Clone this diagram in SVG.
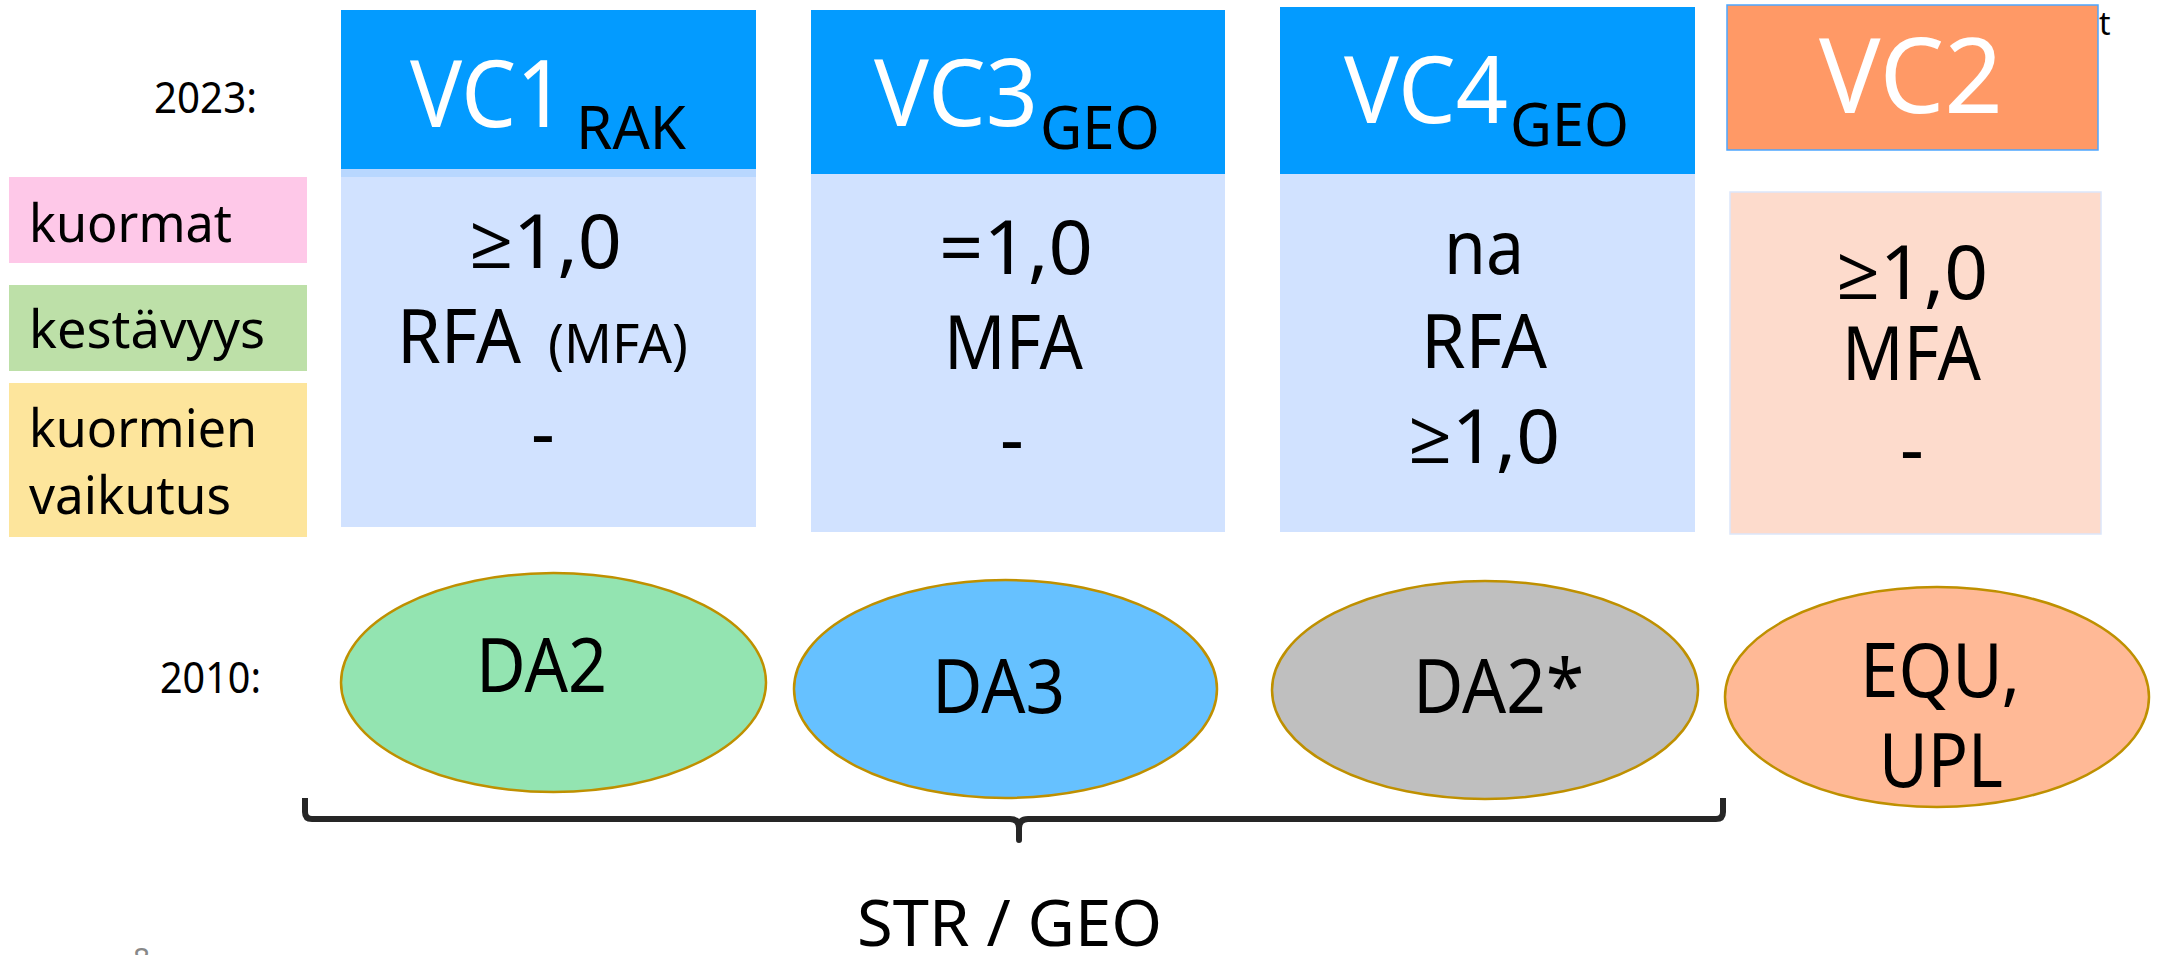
<svg xmlns="http://www.w3.org/2000/svg" width="2157" height="955" viewBox="0 0 2157 955">
  <style>
    text { font-family: "Noto Sans", "Open Sans", "DejaVu Sans", sans-serif; fill: #000; }
    .hdr { fill: #039BFF; }
    .strip { fill: #B8D7FF; }
    .body { fill: #D1E2FF; }
    .big { font-size: 94px; fill: #fff; }
    .sub { font-size: 61px; }
    .val { font-size: 74px; }
    .small { font-size: 55px; }
    .lbl { font-size: 53px; }
    .year { font-size: 43px; }
    .ell { stroke: #BF9000; stroke-width: 2.5; }
    .da { font-size: 75px; }
  </style>

  <rect width="2157" height="955" fill="#fff"/>

  <!-- year labels -->
  <g id="year-2023"><text class="year" x="154" y="113" textLength="103" lengthAdjust="spacingAndGlyphs">2023:</text></g>
  <g id="year-2010"><text class="year" x="160" y="693" textLength="101" lengthAdjust="spacingAndGlyphs">2010:</text></g>

  <!-- row legend -->
  <g id="legend-kuormat">
    <rect x="9" y="177" width="298" height="86" fill="#FEC8E8"/>
    <text class="lbl" x="29" y="242" textLength="203" lengthAdjust="spacingAndGlyphs">kuormat</text>
  </g>
  <g id="legend-kestavyys">
    <rect x="9" y="285" width="298" height="86" fill="#BDE0A8"/>
    <text class="lbl" x="29" y="348" textLength="236" lengthAdjust="spacingAndGlyphs">kestävyys</text>
  </g>
  <g id="legend-vaikutus">
    <rect x="9" y="383" width="298" height="154" fill="#FDE59C"/>
    <text class="lbl" x="29" y="447" textLength="228" lengthAdjust="spacingAndGlyphs">kuormien</text>
    <text class="lbl" x="29" y="514" textLength="202" lengthAdjust="spacingAndGlyphs">vaikutus</text>
  </g>

  <!-- VC1 column -->
  <g id="vc1">
    <rect class="hdr" x="341" y="10" width="415" height="159"/>
    <rect class="strip" x="341" y="169" width="415" height="8"/>
    <rect class="body" x="341" y="177" width="415" height="350"/>
    <text class="big" x="410" y="127" textLength="156" lengthAdjust="spacingAndGlyphs">VC1</text>
    <text class="sub" x="576" y="149" textLength="110" lengthAdjust="spacingAndGlyphs">RAK</text>
    <text class="val" x="469" y="268" textLength="153" lengthAdjust="spacingAndGlyphs">≥1,0</text>
    <text class="val" x="397" y="363" textLength="124" lengthAdjust="spacingAndGlyphs">RFA</text>
    <text class="small" x="548" y="363" textLength="140" lengthAdjust="spacingAndGlyphs">(MFA)</text>
    <text class="val" x="543" y="459" text-anchor="middle">-</text>
  </g>

  <!-- VC3 column -->
  <g id="vc3">
    <rect class="hdr" x="811" y="10" width="414" height="164"/>
    <rect class="body" x="811" y="174" width="414" height="358"/>
    <text class="big" x="874" y="126" textLength="164" lengthAdjust="spacingAndGlyphs">VC3</text>
    <text class="sub" x="1040" y="149" textLength="120" lengthAdjust="spacingAndGlyphs">GEO</text>
    <text class="val" x="939" y="274" textLength="154" lengthAdjust="spacingAndGlyphs">=1,0</text>
    <text class="val" x="944" y="369" textLength="139" lengthAdjust="spacingAndGlyphs">MFA</text>
    <text class="val" x="1012" y="465" text-anchor="middle">-</text>
  </g>

  <!-- VC4 column -->
  <g id="vc4">
    <rect class="hdr" x="1280" y="7" width="415" height="167"/>
    <rect class="body" x="1280" y="174" width="415" height="358"/>
    <text class="big" x="1344" y="123" textLength="164" lengthAdjust="spacingAndGlyphs">VC4</text>
    <text class="sub" x="1510" y="146" textLength="119" lengthAdjust="spacingAndGlyphs">GEO</text>
    <text class="val" x="1444" y="274" textLength="80" lengthAdjust="spacingAndGlyphs">na</text>
    <text class="val" x="1421" y="368" textLength="126" lengthAdjust="spacingAndGlyphs">RFA</text>
    <text class="val" x="1408" y="463" textLength="152" lengthAdjust="spacingAndGlyphs">≥1,0</text>
  </g>

  <!-- VC2 column -->
  <g id="vc2">
    <rect x="1727" y="5" width="371" height="145" fill="#FF9966" stroke="#4DA6FF" stroke-width="1.5"/>
    <rect x="1730" y="192" width="371" height="342" fill="#FDDBCC" stroke="#DCE6FA" stroke-width="1.5"/>
    <text x="1819" y="113" font-size="105" style="fill:#fff" textLength="184" lengthAdjust="spacingAndGlyphs">VC2</text>
    <text class="val" x="1836" y="299" textLength="152" lengthAdjust="spacingAndGlyphs">≥1,0</text>
    <text class="val" x="1842" y="380" textLength="139" lengthAdjust="spacingAndGlyphs">MFA</text>
    <text class="val" x="1912" y="475" text-anchor="middle">-</text>
  </g>

  <!-- stray letter at the top right edge -->
  <g id="corner-note"><text x="2099" y="35" font-size="32">t</text></g>

  <!-- 2010 design approaches -->
  <g id="da2">
    <ellipse class="ell" cx="553.5" cy="682.5" rx="212.5" ry="109.5" fill="#93E4B1"/>
    <text class="da" x="476" y="692" textLength="131" lengthAdjust="spacingAndGlyphs">DA2</text>
  </g>
  <g id="da3">
    <ellipse class="ell" cx="1005.5" cy="689" rx="211.5" ry="109" fill="#66C1FF"/>
    <text class="da" x="932" y="713" textLength="133" lengthAdjust="spacingAndGlyphs">DA3</text>
  </g>
  <g id="da2star">
    <ellipse class="ell" cx="1485" cy="690" rx="213" ry="109" fill="#BFBFBF"/>
    <text class="da" x="1413" y="713" textLength="171" lengthAdjust="spacingAndGlyphs">DA2*</text>
  </g>
  <g id="equ-upl">
    <ellipse class="ell" cx="1937" cy="697" rx="212" ry="110" fill="#FFB996"/>
    <text class="da" x="1860" y="697" textLength="160" lengthAdjust="spacingAndGlyphs">EQU,</text>
    <text class="da" x="1879" y="787" textLength="124" lengthAdjust="spacingAndGlyphs">UPL</text>
  </g>

  <!-- grouping brace under the first three approaches -->
  <g id="connectors">
    <path d="M305,798 L305,812 Q305,819 312,819 L1010,819 Q1019,819 1019,828 L1019,840 L1019,828 Q1019,819 1028,819 L1716,819 Q1723,819 1723,812 L1723,798" fill="none" stroke="#262626" stroke-width="6" stroke-linejoin="round"/>
  </g>
  <g id="str-geo"><text x="857" y="946" font-size="64" textLength="305" lengthAdjust="spacingAndGlyphs">STR / GEO</text></g>

  <!-- page number, cut at the bottom edge -->
  <g id="page-number"><text x="133" y="970" font-size="30" style="fill:#888">8</text></g>
</svg>
